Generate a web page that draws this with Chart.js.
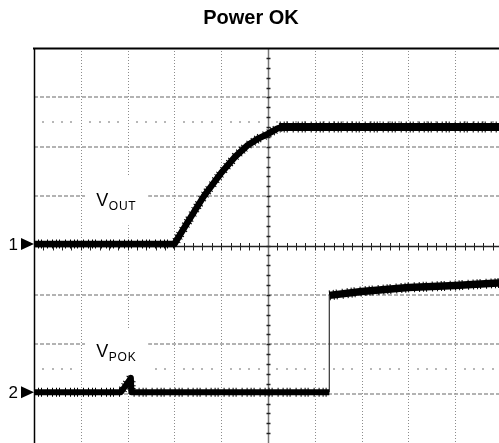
<!DOCTYPE html>
<html>
<head>
<meta charset="utf-8">
<script src="https://cdn.jsdelivr.net/npm/chart.js@4/dist/chart.umd.min.js"></script>
<style>
  html, body { margin: 0; padding: 0; background: #fff; overflow: hidden; }
  #wrap { position: relative; width: 503px; height: 443px; }
</style>
</head>
<body>
<div id="wrap"><canvas id="c"></canvas></div>
<script>
// ---- data (oscilloscope divisions: x 0..10, y -4..4) ----
const xDivisions = [0, 1, 2, 3, 4, 5, 6, 7, 8, 9, 10];
const yDivisions = [-4, -3, -2, -1, 0, 1, 2, 3, 4];

// V_OUT: baseline + soft-start ramp, then regulated level
const voutRampX = [0, 3.0, 3.3, 3.63, 4.0, 4.3, 4.55, 4.8, 5.0, 5.2, 5.3];
const voutRampY = [0.03, 0.03, 0.5, 1.0, 1.47, 1.8, 2.02, 2.17, 2.26, 2.37, 2.40];
const voutFlatX = [5.25, 10];
const voutFlatY = [2.40, 2.40];

// V_POK: low with glitch, step, then slowly rising high level
const vpokLowX = [0, 1.86, 2.07, 2.08, 6.31];
const vpokLowY = [-2.97, -2.97, -2.68, -2.97, -2.97];
const vpokStepX = [6.31, 6.31];
const vpokStepY = [-2.97, -1.01];
const vpokHighX = [6.31, 7.0, 8.0, 9.0, 10];
const vpokHighY = [-1.01, -0.93, -0.85, -0.81, -0.755];

const refLevels = [2.5, -2.5];
const labelMain = ['V', 'V'];
const labelSub = ['OUT', 'POK'];
const labelAnchorX = [1.33, 1.33];
const labelAnchorY = [0.79, -2.255];
const labelBoxX = [1.09, 2.44];
const labelBoxY = [[0.41, 1.39], [-2.62, -1.67]];
const channelNames = ['1', '2'];
const channelLevels = [voutRampY[0], vpokLowY[0]];

const pts = (xs, ys) => xs.map((x, i) => ({ x, y: ys[i] }));

const scopePlugin = {
  id: 'scope',
  beforeDatasetsDraw(chart) {
    const ctx = chart.ctx;
    const xs = chart.scales.x, ys = chart.scales.y;
    const { left, right, top, bottom } = chart.chartArea;
    ctx.save();
    // vertical dotted grid
    ctx.strokeStyle = '#8c8c8c'; ctx.lineWidth = 1; ctx.setLineDash([1, 2]);
    xDivisions.forEach(v => {
      if (v === 0 || v === 5 || v === 10) return;
      const px = Math.round(xs.getPixelForValue(v)) + 0.5;
      ctx.beginPath(); ctx.moveTo(px, top); ctx.lineTo(px, bottom); ctx.stroke();
    });
    // horizontal dashed grid
    ctx.strokeStyle = '#9a9a9a'; ctx.lineWidth = 1.5; ctx.setLineDash([4, 2]);
    yDivisions.forEach(v => {
      if (v === 0 || v === 4 || v === -4) return;
      const py = Math.round(ys.getPixelForValue(v));
      ctx.beginPath(); ctx.moveTo(left, py); ctx.lineTo(right, py); ctx.stroke();
    });
    ctx.setLineDash([]);
    // dotted reference levels
    ctx.fillStyle = '#808080';
    refLevels.forEach(lv => {
      const py = Math.round(ys.getPixelForValue(lv));
      for (let k = 1; k < 50; k++) {
        if (k % 5 === 0) continue;
        const px = Math.round(xs.getPixelForValue(k * 0.2));
        ctx.fillRect(px - 0.75, py - 0.75, 1.5, 1.5);
      }
    });
    // centre horizontal axis with ticks
    const cy = Math.round(ys.getPixelForValue(0)) + 0.5;
    ctx.strokeStyle = '#222'; ctx.lineWidth = 1.3;
    ctx.beginPath(); ctx.moveTo(left, cy); ctx.lineTo(right, cy); ctx.stroke();
    ctx.lineWidth = 1;
    for (let k = 1; k < 50; k++) {
      const px = Math.round(xs.getPixelForValue(k * 0.2)) + 0.5;
      ctx.beginPath(); ctx.moveTo(px, cy - 3.5); ctx.lineTo(px, cy + 4); ctx.stroke();
    }
    // centre vertical axis with ticks
    const cx = Math.round(xs.getPixelForValue(5)) + 0.5;
    ctx.strokeStyle = '#777'; ctx.lineWidth = 1.5;
    ctx.beginPath(); ctx.moveTo(cx, top); ctx.lineTo(cx, bottom); ctx.stroke();
    ctx.strokeStyle = '#222'; ctx.lineWidth = 1.5;
    for (let k = -19; k < 20; k++) {
      const py = Math.round(ys.getPixelForValue(k * 0.2)) + 0.5;
      ctx.beginPath(); ctx.moveTo(cx - 2, py); ctx.lineTo(cx + 2, py); ctx.stroke();
    }
    // borders
    ctx.strokeStyle = '#000'; ctx.lineWidth = 2;
    ctx.beginPath(); ctx.moveTo(left - 1, top + 0.5); ctx.lineTo(right, top + 0.5); ctx.stroke();
    ctx.lineWidth = 1.5;
    ctx.beginPath(); ctx.moveTo(left + 0.5, top); ctx.lineTo(left + 0.5, bottom); ctx.stroke();
    // label boxes + labels
    for (let i = 0; i < labelMain.length; i++) {
      const x0 = xs.getPixelForValue(labelBoxX[0]), x1 = xs.getPixelForValue(labelBoxX[1]);
      const y0 = ys.getPixelForValue(labelBoxY[i][1]), y1 = ys.getPixelForValue(labelBoxY[i][0]);
      ctx.fillStyle = '#fff';
      ctx.fillRect(x0, y0, x1 - x0, y1 - y0);
      const tx = xs.getPixelForValue(labelAnchorX[i]);
      const ty = ys.getPixelForValue(labelAnchorY[i]);
      ctx.fillStyle = '#000';
      ctx.textAlign = 'left'; ctx.textBaseline = 'alphabetic';
      ctx.font = '18px "Liberation Sans", Arial, sans-serif';
      ctx.fillText(labelMain[i], tx, ty);
      const w = ctx.measureText(labelMain[i]).width;
      ctx.font = '12px "Liberation Sans", Arial, sans-serif';
      let sx = tx + w + 0.5;
      for (const ch of labelSub[i]) {
        ctx.fillText(ch, sx, ty + 4);
        sx += ctx.measureText(ch).width + 0.8;
      }
    }
    // channel markers
    channelNames.forEach((name, i) => {
      const py = ys.getPixelForValue(channelLevels[i]);
      ctx.fillStyle = '#000';
      ctx.beginPath();
      ctx.moveTo(left - 13, py - 6); ctx.lineTo(left, py); ctx.lineTo(left - 13, py + 6);
      ctx.closePath(); ctx.fill();
      ctx.font = '17px "Liberation Sans", Arial, sans-serif';
      ctx.textAlign = 'right'; ctx.textBaseline = 'middle';
      ctx.fillText(name, left - 16, py + 1);
    });
    ctx.restore();
  }
};

const traceStyle = { borderColor: '#000', pointRadius: 0, tension: 0, fill: false,
  borderJoinStyle: 'round', clip: false };
const fuzzStyle = { borderColor: '#000', pointRadius: 0, tension: 0, fill: false,
  borderDash: [1, 3, 1, 2, 1, 5, 1, 4], clip: false };

new Chart(document.getElementById('c'), {
  type: 'line',
  data: {
    datasets: [
      Object.assign({ label: 'VOUT', data: pts(voutRampX, voutRampY), borderWidth: 6.5 }, traceStyle),
      Object.assign({ label: 'VOUT fuzz', data: pts(voutRampX, voutRampY), borderWidth: 9 }, fuzzStyle),
      Object.assign({ label: 'VOUT level', data: pts(voutFlatX, voutFlatY), borderWidth: 8 }, traceStyle),
      Object.assign({ label: 'VOUT level fuzz', data: pts(voutFlatX, voutFlatY), borderWidth: 11 }, fuzzStyle),
      Object.assign({ label: 'VPOK low', data: pts(vpokLowX, vpokLowY), borderWidth: 6 }, traceStyle),
      Object.assign({ label: 'VPOK low fuzz', data: pts(vpokLowX, vpokLowY), borderWidth: 9 }, fuzzStyle),
      Object.assign({ label: 'VPOK step', data: pts(vpokStepX, vpokStepY), borderWidth: 1.2 }, traceStyle, { borderColor: '#333' }),
      Object.assign({ label: 'VPOK high', data: pts(vpokHighX, vpokHighY), borderWidth: 7.5 }, traceStyle),
      Object.assign({ label: 'VPOK high fuzz', data: pts(vpokHighX, vpokHighY), borderWidth: 10 }, fuzzStyle)
    ]
  },
  options: {
    responsive: true,
    maintainAspectRatio: false,
    animation: false,
    events: [],
    layout: { padding: { left: 0, right: 1, top: 0, bottom: 0 } },
    plugins: {
      legend: { display: false },
      tooltip: { enabled: false },
      title: {
        display: true,
        text: 'Power OK',
        color: '#000',
        font: { family: '"Liberation Sans", Arial, sans-serif', size: 20, weight: 'bold', lineHeight: 1.2 },
        padding: { top: 6, bottom: 18 }
      }
    },
    scales: {
      x: { type: 'linear', min: 0, max: 10, display: false },
      y: {
        type: 'linear', min: -4, max: 4, display: true,
        grid: { display: false }, border: { display: false },
        ticks: { display: false },
        afterFit(s) { s.width = 34; }
      }
    }
  },
  plugins: [scopePlugin]
});
</script>
</body>
</html>
